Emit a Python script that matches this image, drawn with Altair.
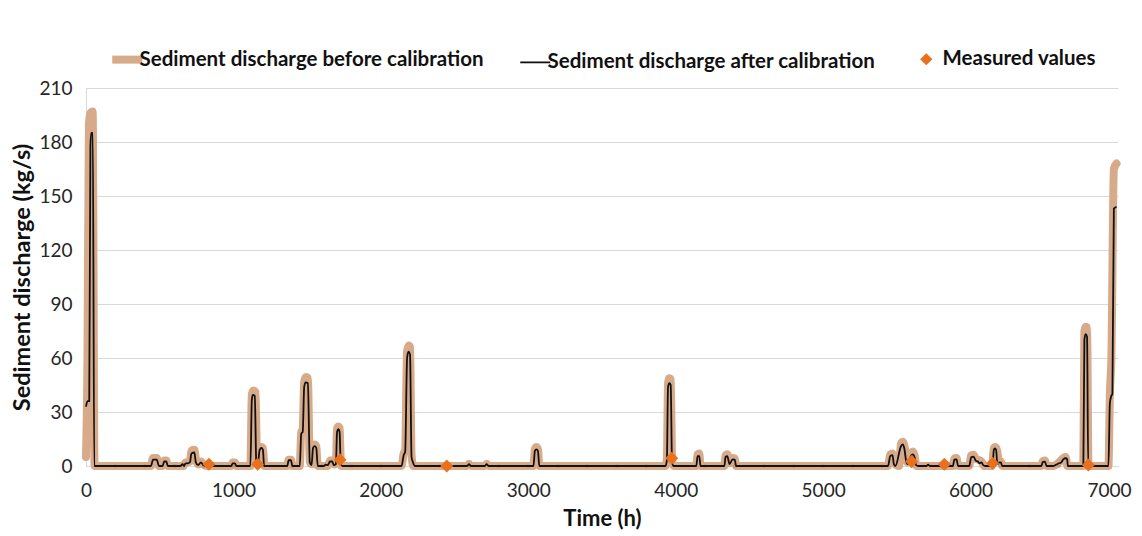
import altair as alt
import pandas as pd

BEFORE = "Sediment discharge before calibration"
AFTER = "Sediment discharge after calibration"
MEAS = "Measured values"

# Sediment discharge after calibration (time h, kg/s)
after_t = [0, 10, 22, 30, 36, 46, 56,
           440, 455, 480, 495, 520, 530, 545, 555, 640, 655, 665, 675, 690, 705, 715, 735, 745, 760, 780, 795, 820,
           985, 995, 1010, 1020,
           1115, 1125, 1132, 1145, 1155, 1165, 1178, 1190, 1200, 1208,
           1365, 1375, 1390, 1400,
           1450, 1460, 1470, 1480, 1490, 1505, 1518, 1530, 1540, 1552, 1562, 1572,
           1615, 1625, 1640, 1655, 1670, 1680, 1695, 1703, 1712, 1720, 1728, 1740,
           2140, 2155, 2165, 2178, 2187, 2198, 2208, 2218, 2230,
           2585, 2598, 2610, 2705, 2718, 2730,
           3035, 3045, 3055, 3065, 3075,
           3930, 3940, 3948, 3957, 3966, 3975, 3985,
           4140, 4148, 4160, 4168,
           4330, 4338, 4350, 4365, 4385, 4400, 4410,
           5440, 5455, 5470, 5480, 5490, 5528, 5540, 5550, 5565, 5575, 5595, 5608, 5620, 5630, 5645,
           5700, 5712, 5725,
           5880, 5890, 5905, 5915,
           5990, 6005, 6020, 6035, 6050, 6060, 6075, 6085, 6100,
           6140, 6150, 6158, 6165, 6173, 6182, 6195, 6205, 6215,
           6480, 6490, 6505, 6515,
           6560, 6575, 6600, 6615, 6630, 6645, 6655, 6660,
           6765, 6772, 6780, 6790, 6798,
           6935, 6945, 6955, 6962, 6972, 6990]
after_v = [33, 36, 36, 178, 185, 185, 0,
           0, 3.5, 3.5, 0, 0, 2.5, 2.5, 0, 0, 1, 0, 1.5, 1.5, 2, 7, 7.5, 2, 0.5, 2, 0.5, 0,
           0, 1.5, 1.5, 0,
           0, 37, 39.5, 39, 2, 0.5, 9, 10, 9, 0,
           0, 3.2, 3.2, 0,
           0, 18, 19, 44, 46.5, 46, 2, 0.5, 10, 11, 10, 0,
           0, 0.8, 0.5, 2.5, 2.5, 0.5, 1, 19, 20.5, 19, 1, 0,
           0, 6, 8, 60, 63.5, 62, 5, 2, 0,
           0, 1, 0, 0, 1, 0,
           0, 8.5, 9.2, 8.5, 0,
           0, 3, 44, 46, 45, 2, 0,
           0, 5.5, 5.5, 0,
           0, 5, 5.5, 1, 3.7, 3.5, 0,
           0, 5.5, 6, 1, 0, 11, 12, 10, 2, 1, 5.5, 6.5, 5, 0.5, 0,
           0, 0.7, 0,
           0, 3.5, 3.7, 0,
           0, 5, 5.2, 3, 2.5, 1.5, 2, 0.5, 0,
           0, 1.5, 9, 9.8, 9, 1, 2, 2, 0,
           0, 2.3, 2.4, 0,
           0, 0.5, 1.5, 2, 3.8, 4.3, 3.8, 0,
           0, 70, 73.3, 72, 0,
           0, 35, 39, 40, 143, 144]

# Sediment discharge before calibration (time h, kg/s)
before_t = [0, 10, 20, 30, 45, 58,
            440, 455, 480, 495, 520, 530, 545, 555, 660, 675, 690, 705, 715, 735, 748, 765, 780, 795, 820,
            985, 995, 1010, 1020,
            1115, 1125, 1135, 1150, 1160, 1170, 1178, 1190, 1200, 1210,
            1365, 1375, 1390, 1400,
            1450, 1460, 1470, 1480, 1492, 1505, 1518, 1530, 1540, 1552, 1562, 1572,
            1640, 1655, 1670, 1685, 1695, 1703, 1712, 1720, 1730,
            2140, 2155, 2165, 2178, 2190, 2198, 2208, 2220,
            2585, 2598, 2610, 2705, 2718, 2730,
            3035, 3045, 3055, 3065, 3075,
            3930, 3940, 3948, 3957, 3966, 3976, 3985,
            4140, 4148, 4160, 4168,
            4330, 4338, 4350, 4365, 4385, 4400, 4410,
            5440, 5455, 5470, 5482, 5515, 5528, 5540, 5552, 5570, 5595, 5608, 5620, 5632,
            5880, 5890, 5905, 5915,
            5990, 6005, 6020, 6035, 6050, 6075, 6090,
            6145, 6158, 6165, 6175, 6195, 6205, 6215,
            6480, 6490, 6505, 6515,
            6560, 6600, 6630, 6645, 6657,
            6765, 6772, 6780, 6790, 6800,
            6935, 6945, 6955, 6972, 6990]
before_v = [5, 60, 190, 196, 197, 0,
            0, 4.5, 4.5, 0, 0, 3, 3, 0, 0, 2, 2, 2.5, 8.5, 9, 2.5, 0.8, 2.5, 0.8, 0,
            0, 2, 2, 0,
            0, 40, 42, 41, 2.5, 1, 10, 10.5, 10, 0,
            0, 3.5, 3.5, 0,
            0, 19, 20, 47, 49.5, 49, 2.5, 1, 11, 12, 11, 0,
            0, 3, 3, 0.8, 1.5, 21, 22, 21, 0,
            0, 7, 9, 64, 67, 66, 6, 0,
            0, 1.2, 0, 0, 1.2, 0,
            0, 9.5, 10.5, 9.5, 0,
            0, 4, 46, 48.7, 48, 2.5, 0,
            0, 6.5, 7, 0,
            0, 6, 6.5, 1.5, 4.5, 4.3, 0,
            0, 6.5, 7, 1.5, 0, 12.5, 13.5, 11, 2, 7, 8, 6, 0,
            0, 4.3, 4.5, 0,
            0, 6, 6.2, 4, 3.5, 2.5, 0,
            0, 10, 10.5, 10, 2.5, 2.5, 0,
            0, 2.8, 3, 0,
            0, 2, 4.5, 5, 0,
            0, 75, 77.4, 77, 0,
            0, 40, 60, 165, 168]

# Measured values
meas_t = [834, 1164, 1723, 2447, 3973, 5600, 5822, 6150, 6799]
meas_v = [1.0, 1.0, 3.5, 0.0, 4.3, 2.5, 1.0, 1.5, 0.5]

# faint darker spots seen on the baseline of the "before" curve
spot_t = [200, 400, 600, 800, 1000, 1200, 1400, 1600, 1800, 2000, 2400, 2600, 2800, 3000, 3200,
          3400, 3600, 3800, 4200, 4400, 4600, 4800, 5000, 5200, 5400, 5600, 5800, 6000, 6200,
          6400, 6600, 6800]

y_ticks = [0, 30, 60, 90, 120, 150, 180, 210]
x_ticks = [0, 1000, 2000, 3000, 4000, 5000, 6000, 7000]

TAN = "#d7aa8a"
BLACK = "#111111"
ORANGE = "#e8711e"
FONT = "Lato"

lines = pd.concat([
    pd.DataFrame({"t": before_t, "v": before_v, "series": BEFORE, "ord": range(len(before_t))}),
    pd.DataFrame({"t": after_t, "v": after_v, "series": AFTER, "ord": range(len(after_t))}),
])
meas = pd.DataFrame({"t": meas_t, "v": meas_v, "kind": MEAS})
spots = pd.DataFrame({"t": spot_t, "v": [0] * len(spot_t)})

line_legend = alt.Legend(
    title=None, orient="none", direction="horizontal", legendX=31, legendY=-39,
    labelFont=FONT, labelFontSize=20.5, labelFontWeight="bold", labelColor="#111111", labelLimit=0,
    symbolSize=900, symbolType="stroke", labelOffset=2, columnPadding=32,
    symbolStrokeWidth=alt.ExprRef(expr="datum.value === '%s' ? 8 : 1.8" % BEFORE),
)
meas_legend = alt.Legend(
    title=None, orient="none", direction="horizontal", legendX=830, legendY=-39,
    labelFont=FONT, labelFontSize=20.5, labelFontWeight="bold", labelColor="#111111", labelLimit=0,
    symbolSize=150, symbolType="diamond", symbolFillColor=ORANGE, symbolStrokeWidth=0,
    labelOffset=6,
)

color = alt.Color("series:N", scale=alt.Scale(domain=[BEFORE, AFTER], range=[TAN, BLACK]),
                  legend=line_legend)

x = alt.X("t:Q", scale=alt.Scale(domain=[0, 7000], nice=False),
          axis=alt.Axis(values=x_ticks, format="d", title="Time (h)", labelPadding=15, titlePadding=8,
                        grid=False, ticks=False, labelFlush=False,
                        labelExpr="datum.value === 7000 ? '7000\u2009' : datum.label",
                        labelOffset={"condition": {"test": "datum.value === 7000", "value": -9}, "value": 0}))
y = alt.Y("v:Q", scale=alt.Scale(domain=[0, 210], nice=False),
          axis=alt.Axis(values=y_ticks, title="Sediment discharge (kg/s)", labelPadding=14,
                        titlePadding=4, titleFontSize=23.5, grid=True, ticks=False))

base = alt.Chart(lines)

before_line = base.transform_filter(alt.datum.series == BEFORE).mark_line(
    strokeWidth=8, strokeCap="round", strokeJoin="round", interpolate="monotone"
).encode(x=x, y=y, color=color, order="ord:Q")

spot_layer = alt.Chart(spots).mark_circle(size=14, color="#c58f66", opacity=0.8).encode(
    x="t:Q", y="v:Q")

after_line = base.transform_filter(alt.datum.series == AFTER).mark_line(
    strokeWidth=1.8, strokeJoin="round", interpolate="monotone"
).encode(x=x, y=y, color=color, order="ord:Q")

meas_layer = alt.Chart(meas).mark_point(
    filled=True, size=170, opacity=1, color=ORANGE
).encode(x="t:Q", y="v:Q",
         shape=alt.Shape("kind:N", scale=alt.Scale(domain=[MEAS], range=["diamond"]), legend=meas_legend))

chart = alt.layer(before_line, spot_layer, after_line, meas_layer).properties(
    width=1032, height=378,
    autosize=alt.AutoSizeParams(type="none"),
    padding={"left": 78, "top": 80, "right": 16, "bottom": 70},
).configure_view(stroke=None).configure_axis(
    labelFont=FONT, labelFontSize=19, labelColor="#262626",
    titleFont=FONT, titleFontSize=22, titleFontWeight="bold", titleColor="#111111",
    domainColor="#d9d9d9", gridColor="#d9d9d9", domainWidth=1,
)

chart.save("out.html", embed_options={"renderer": "svg", "actions": False})
